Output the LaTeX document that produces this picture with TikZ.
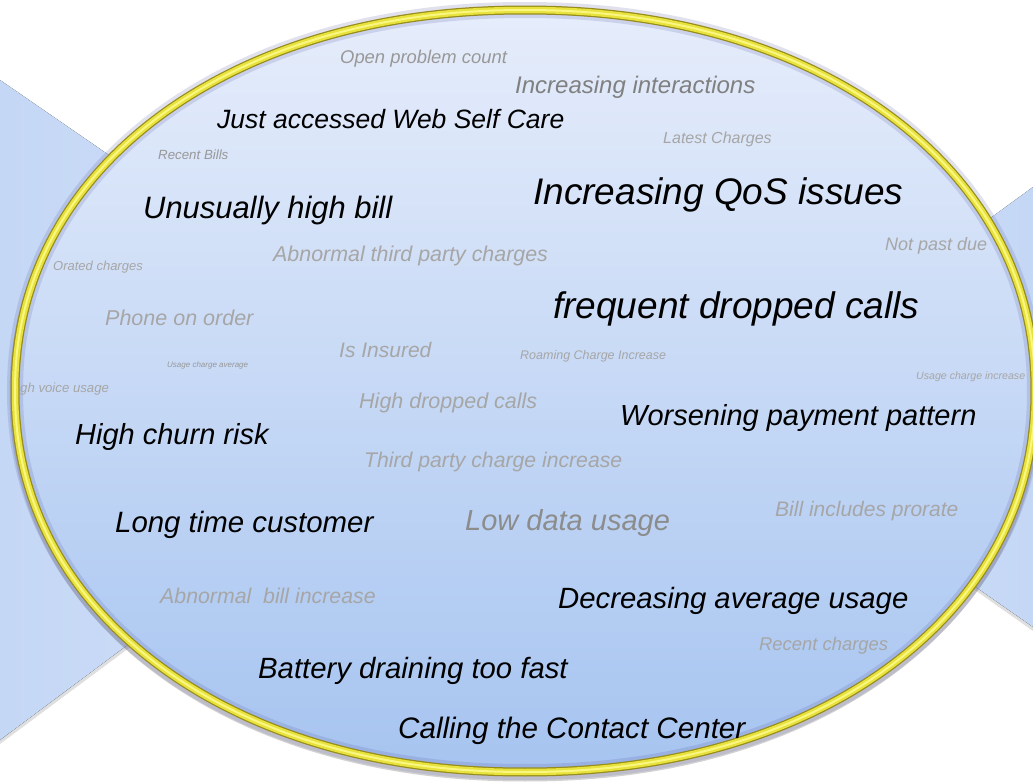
\documentclass[tikz,border=0pt]{standalone}
\usepackage{fontspec}
\setmainfont{Liberation Sans}
\newcommand\fsz[1]{\fontsize{#1}{#1}\selectfont}
\definecolor{rimdark}{RGB}{150,140,30}
\definecolor{rimyel}{RGB}{232,226,60}
\definecolor{rimhi}{RGB}{250,246,130}
\definecolor{fillTop}{RGB}{230,237,251}
\definecolor{fillMid}{RGB}{207,222,247}
\definecolor{fillBot}{RGB}{166,196,240}
\definecolor{triA}{RGB}{196,215,245}
\definecolor{triB}{RGB}{212,226,248}
\definecolor{gA}{RGB}{128,128,128}
\definecolor{gB}{RGB}{140,140,140}
\definecolor{gC}{RGB}{152,152,152}
\definecolor{gD}{RGB}{166,166,166}
\begin{document}
\begin{tikzpicture}[x=1pt,y=-1pt,
  tx/.style={anchor=base west, inner sep=0pt, font=\itshape\fsz{#1}},
  key/.style={tx=#1, text=black},
  gmid/.style={tx=#1, text=gA},
  gdat/.style={tx=#1, text=gB},
  gsml/.style={tx=#1, text=gC},
  glt/.style={tx=#1, text=gD},
  oval/.style={insert path={plot[smooth cycle, domain=1:359, samples=180, variable=\t]
     ({525+510*cos(\t)*abs(cos(\t))^(-0.048)},{391+381*sin(\t)*abs(sin(\t))^(-0.048)})}}
]
\useasboundingbox (0,0) rectangle (1033,782);
\fill[white] (0,0) rectangle (1033,782);

% background chevrons
\fill[gray, opacity=.25] (0,83) -- (462,400) -- (0,744) -- cycle;
\fill[left color=triA, right color=triB] (0,80) -- (460,397) -- (0,740) -- cycle;
\fill[gray, opacity=.25] (1033,190) -- (727,415) -- (1033,631) -- cycle;
\fill[left color=triB, right color=triA] (1033,187) -- (725,412) -- (1033,627) -- cycle;

% oval shadow and body
\draw[shift={(0,4)}, line width=11pt, gray, opacity=.35, oval];
\path[top color=fillTop, middle color=fillMid, bottom color=fillBot, oval];
\draw[line width=16pt, gray!70!blue, opacity=.18, oval];

% labels
\node[gsml=18.4] (opc) at (340,63) {Open problem count};
\node[gmid=24] (inti) at (515,93) {Increasing interactions};
\node[key=26.5] (web) at (217,128) {Just accessed Web Self Care};
\node[glt=16] (latc) at (663,143) {Latest Charges};
\node[gsml=13.3] (rbill) at (158,159) {Recent Bills};
\node[key=37] (qos) at (533,204) {Increasing QoS issues};
\node[key=30.9] (uhb) at (143,218) {Unusually high bill};
\node[glt=18] (npd) at (885,250) {Not past due};
\node[glt=21.4] (atp) at (273,261) {Abnormal third party charges};
\node[glt=13] (orc) at (53,270) {Orated charges};
\node[key=37] (fdc) at (553,318) {frequent dropped calls};
\node[glt=21.5] (poo) at (105,325) {Phone on order};
\node[glt=21] (ins) at (339,357) {Is Insured};
\node[glt=12.5] (rci) at (520,359) {Roaming Charge Increase};
\node[gsml=8] (uca) at (167,367) {Usage charge average};
\node[glt=10.6] (uci) at (916,379) {Usage charge increase};
\node[glt=13.2] (hvu) at (20,392) {gh voice usage};
\node[glt=21.5] (hdc) at (359,408) {High dropped calls};
\node[key=29] (wpp) at (620,425) {Worsening payment pattern};
\node[key=29] (hcr) at (75,444) {High churn risk};
\node[glt=21.2] (tpc) at (364,467) {Third party charge increase};
\node[glt=21] (bip) at (775,516) {Bill includes prorate};
\node[gdat=29] (ldu) at (465,530) {Low data usage};
\node[key=29.4] (ltc) at (115,532) {Long time customer};
\node[glt=21.3] (abi) at (160,603) {Abnormal\ \ bill increase};
\node[key=29.3] (dau) at (558,608) {Decreasing average usage};
\node[glt=18.4] (rch) at (759,650) {Recent charges};
\node[key=29.3] (bat) at (258,678) {Battery draining too fast};

% golden rim
\draw[line width=9pt, rimdark, oval];
\draw[line width=6.5pt, rimyel, oval];
\draw[line width=2pt, rimhi, oval];

\node[key=29.6] (ccc) at (398,738) {Calling the Contact Center};
\end{tikzpicture}
\end{document}
